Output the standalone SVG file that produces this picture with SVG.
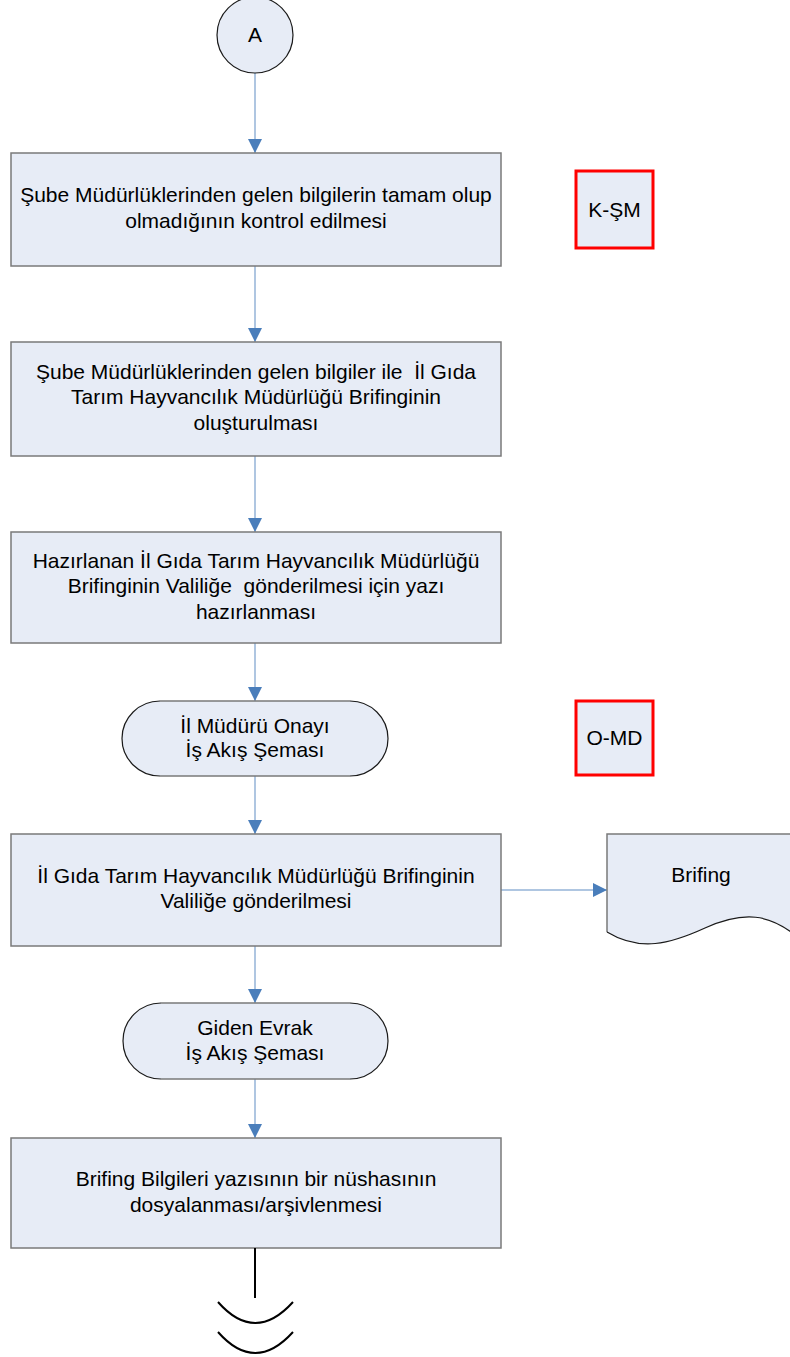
<svg xmlns="http://www.w3.org/2000/svg" width="790" height="1357" viewBox="0 0 790 1357">
<defs>
<style>
.bx{fill:#e7ecf6;stroke:#7a7a7a;stroke-width:1.5}
.fill{fill:#e7ecf6;stroke:none}
.gl{stroke:#7a7a7a;stroke-width:1.5;fill:none}
.bl{stroke:#1a1a1a;stroke-width:1.2;fill:none}
.red{fill:#e7ecf6;stroke:#ff0000;stroke-width:3}
.t{font-family:"Liberation Sans",Arial,sans-serif;font-size:21px;fill:#000;text-anchor:middle}
.cn{stroke:#95b3d7;stroke-width:1.5;fill:none;marker-end:url(#ah)}
</style>
<marker id="ah" viewBox="0 0 10 10" refX="10" refY="5" markerUnits="userSpaceOnUse" markerWidth="14" markerHeight="14" orient="auto">
<path d="M0,0 L10,5 L0,10 Z" fill="#4a7ebb"/>
</marker>
</defs>

<g id="connectors">
<line class="cn" x1="255" y1="73" x2="255" y2="153"/>
<line class="cn" x1="255" y1="266" x2="255" y2="342"/>
<line class="cn" x1="255" y1="456" x2="255" y2="532"/>
<line class="cn" x1="255" y1="643" x2="255" y2="701"/>
<line class="cn" x1="255" y1="776" x2="255" y2="834"/>
<line class="cn" x1="255" y1="946" x2="255" y2="1003"/>
<line class="cn" x1="255" y1="1079" x2="255" y2="1138"/>
<line class="cn" x1="501" y1="890" x2="607" y2="890"/>
</g>

<g id="nodeA">
<circle cx="255" cy="35" r="38" fill="#e7ecf6" stroke="#1a1a1a" stroke-width="1.2"/>
<text class="t" x="255" y="42">A</text>
</g>

<g id="box1">
<rect class="bx" x="11" y="153" width="490" height="113"/>
<text class="t" x="256" y="202">Şube Müdürlüklerinden gelen bilgilerin tamam olup</text>
<text class="t" x="256" y="228">olmadığının kontrol edilmesi</text>
</g>

<g id="ksm">
<rect class="red" x="576" y="171" width="77" height="77"/>
<text class="t" x="614.5" y="217">K-ŞM</text>
</g>

<g id="box2">
<rect class="bx" x="11" y="342" width="490" height="114"/>
<text class="t" x="256" y="379" xml:space="preserve">Şube Müdürlüklerinden gelen bilgiler ile  İl Gıda</text>
<text class="t" x="256" y="404">Tarım Hayvancılık Müdürlüğü Brifinginin</text>
<text class="t" x="256" y="430">oluşturulması</text>
</g>

<g id="box3">
<rect class="bx" x="11" y="532" width="490" height="111"/>
<text class="t" x="256" y="568">Hazırlanan İl Gıda Tarım Hayvancılık Müdürlüğü</text>
<text class="t" x="256" y="593" xml:space="preserve">Brifinginin Valiliğe  gönderilmesi için yazı</text>
<text class="t" x="256" y="619">hazırlanması</text>
</g>

<g id="term1">
<rect class="fill" x="122" y="701" width="266" height="75" rx="37.5"/>
<path class="bl" d="M160,701 A38,37.5 0 0 0 160,776 M350,701 A38,37.5 0 0 1 350,776"/>
<path class="gl" d="M160,701 H350 M160,776 H350"/>
<text class="t" x="255" y="733">İl Müdürü Onayı</text>
<text class="t" x="255" y="757">İş Akış Şeması</text>
</g>

<g id="omd">
<rect class="red" x="576" y="701" width="77" height="74"/>
<text class="t" x="614.5" y="745">O-MD</text>
</g>

<g id="box4">
<rect class="bx" x="11" y="834" width="490" height="112"/>
<text class="t" x="256" y="883">İl Gıda Tarım Hayvancılık Müdürlüğü Brifinginin</text>
<text class="t" x="256" y="908">Valiliğe gönderilmesi</text>
</g>

<g id="brifing">
<path class="fill" d="M607,834 H795 V935 C770,915 745,910 705,928 C670,944 640,952 607,932 Z"/>
<path class="gl" d="M607,932 V834 H795"/>
<path class="bl" d="M607,932 C640,952 670,944 705,928 C745,910 770,915 795,935"/>
<text class="t" x="701" y="882">Brifing</text>
</g>

<g id="term2">
<rect class="fill" x="123" y="1003" width="265" height="76" rx="38"/>
<path class="bl" d="M161,1003 A38,38 0 0 0 161,1079 M350,1003 A38,38 0 0 1 350,1079"/>
<path class="gl" d="M161,1003 H350 M161,1079 H350"/>
<text class="t" x="255" y="1035">Giden Evrak</text>
<text class="t" x="255" y="1060">İş Akış Şeması</text>
</g>

<g id="box5">
<rect class="bx" x="11" y="1138" width="490" height="110"/>
<text class="t" x="256" y="1186">Brifing Bilgileri yazısının bir nüshasının</text>
<text class="t" x="256" y="1212">dosyalanması/arşivlenmesi</text>
</g>

<g id="break">
<line x1="255" y1="1248" x2="255" y2="1298" stroke="#000" stroke-width="2"/>
<path d="M218,1302 Q255,1344 293,1302" fill="none" stroke="#000" stroke-width="2"/>
<path d="M218,1332 Q255,1374 293,1332" fill="none" stroke="#000" stroke-width="2"/>
</g>
</svg>
